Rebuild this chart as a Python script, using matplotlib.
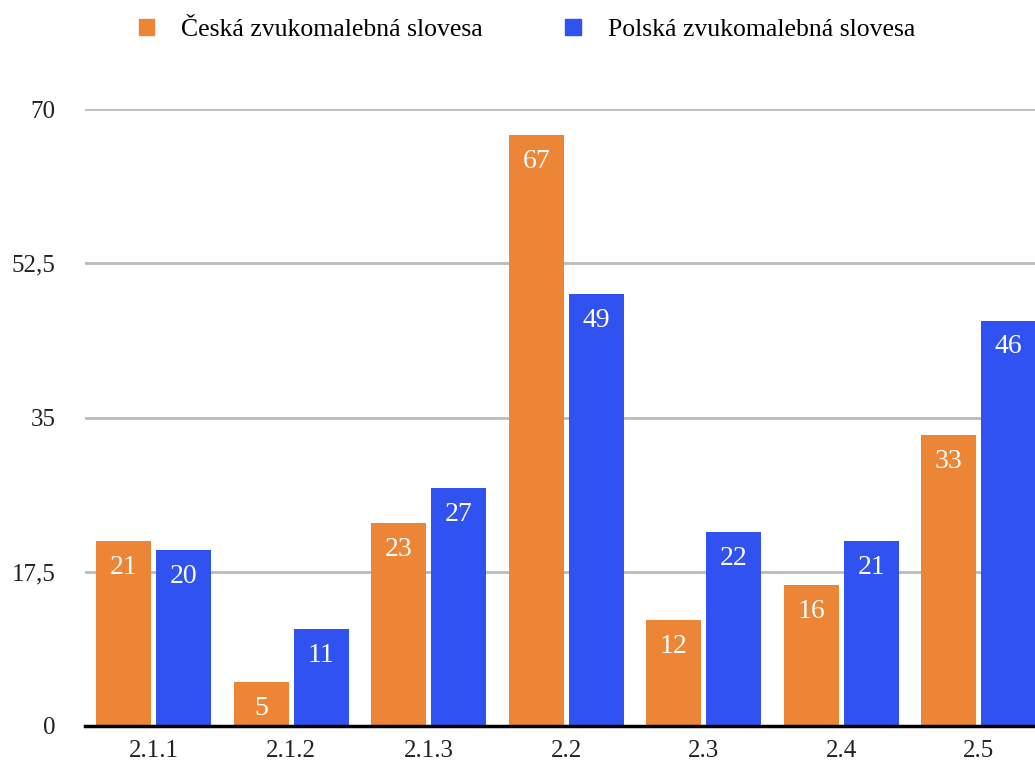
import matplotlib
matplotlib.use('Agg')
import matplotlib.pyplot as plt
import numpy as np
from matplotlib.patches import Patch

categories = ['2.1.1', '2.1.2', '2.1.3', '2.2', '2.3', '2.4', '2.5']
czech = [21, 5, 23, 67, 12, 16, 33]
polish = [20, 11, 27, 49, 22, 21, 46]
yticks = [0, 17.5, 35, 52.5, 70]
ytick_labels = ['0', '17,5', '35', '52,5', '70']
series_names = ['Česká zvukomalebná slovesa', 'Polská zvukomalebná slovesa']

orange = '#EC8536'
blue = '#2F52F0'

plt.rcParams['font.family'] = ['Liberation Serif', 'DejaVu Serif']

fig = plt.figure(figsize=(10.35, 7.61), dpi=100)
ax = fig.add_axes([85 / 1035, 35 / 761, 1 - 85 / 1035, (726 - 109) / 761])

x = np.arange(len(categories))
w = 0.4
b1 = ax.bar(x - w / 2 - 0.018, czech, width=w, color=orange, zorder=3)
b2 = ax.bar(x + w / 2 + 0.018, polish, width=w, color=blue, zorder=3)

# value labels inside the bar tops
for bars, vals in [(b1, czech), (b2, polish)]:
    for rect, v in zip(bars, vals):
        ax.annotate(str(v), (rect.get_x() + rect.get_width() / 2, v),
                    xytext=(0, -19), textcoords='offset points',
                    ha='center', va='center', color='white', fontsize=20, zorder=4)

ax.set_xlim(-0.5, (1035 - 85) / 137.5 - 0.5)
ax.set_ylim(0, 70)
ax.set_yticks(yticks)
ax.set_yticklabels(ytick_labels)
ax.set_xticks(x)
ax.set_xticklabels(categories)
ax.tick_params(axis='both', length=0, labelsize=18, colors='#222222')
ax.tick_params(axis='y', pad=21)
ax.tick_params(axis='x', pad=10)

ax.grid(axis='y', color='#BBBBBB', linewidth=2, zorder=0)
for s in ['top', 'right', 'left']:
    ax.spines[s].set_visible(False)
ax.spines['bottom'].set_color('black')
ax.spines['bottom'].set_linewidth(2.5)
ax.spines['bottom'].set_zorder(5)

handles = [Patch(color=orange), Patch(color=blue)]
fig.legend(handles, series_names, loc='center', bbox_to_anchor=(527 / 1035, 1 - 30 / 761),
           ncol=2, frameon=False, fontsize=18.5, handlelength=0.6, handleheight=0.6,
           handletextpad=1.05, columnspacing=3.2)

fig.savefig('out.png', dpi=100)
